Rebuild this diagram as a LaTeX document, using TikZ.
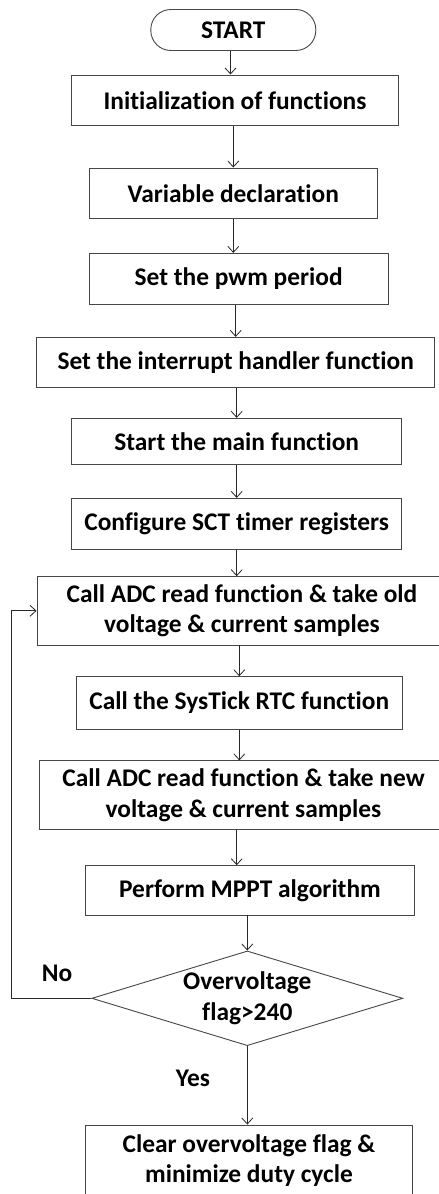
\documentclass[tikz,border=0pt]{standalone}
\usepackage{fontspec}
\setmainfont{Carlito}[Ligatures=NoCommon]
\usetikzlibrary{arrows.meta,shapes.geometric,calc}
\definecolor{boxc}{RGB}{70,70,70}
\definecolor{arrc}{RGB}{40,40,40}
\begin{document}
\begin{tikzpicture}[x=1pt,y=-1pt,
  every node/.style={font=\fontsize{25.4}{30.5}\selectfont\bfseries, text=black},
  pbox/.style={draw=boxc, line width=0.9pt, rectangle, inner sep=0pt, align=center},
  arr/.style={draw=arrc, line width=0.8pt, -{Straight Barb[length=6pt,width=11pt]}},
  lbl/.style={inner sep=0pt}]
\clip (0,0) rectangle (439,1194);
\fill[white] (0,0) rectangle (439,1194);
\node[pbox, rounded corners=20pt, minimum width=165, minimum height=41] (start) at (233.3,30) {START};
\node[pbox, minimum width=326.6, minimum height=50.7] (init) at (235,100.3) {Initialization of functions};
\node[pbox, minimum width=288, minimum height=50.7] (var) at (233.3,193.3) {Variable declaration};
\node[pbox, minimum width=298.7, minimum height=50.7] (pwm) at (238.7,278.7) {Set the pwm period};
\node[pbox, minimum width=398, minimum height=50] (irq) at (235.7,362.3) {Set the interrupt handler function};
\node[pbox, minimum width=330, minimum height=46] (mainf) at (236.7,441.3) {Start the main function};
\node[pbox, minimum width=330, minimum height=50.7] (sct) at (236.7,523.7) {Configure SCT timer registers};
\node[pbox, minimum width=410, minimum height=68.3] (adcold) at (242,610.8) {Call ADC read function \& take old\\voltage \& current samples};
\node[pbox, minimum width=326.7, minimum height=52.6] (tick) at (239.3,703) {Call the SysTick RTC function};
\node[pbox, minimum width=409, minimum height=68.3] (adcnew) at (243.5,795) {Call ADC read function \& take new\\voltage \& current samples};
\node[pbox, minimum width=328.6, minimum height=49.3] (mppt) at (250,890.3) {Perform MPPT algorithm};
\node[pbox, diamond, shape aspect=3.28, minimum width=311, minimum height=94.7] (dia) at (247.3,998.3) {Overvoltage\\flag>240};
\node[pbox, minimum width=326.6, minimum height=71.4] (clr) at (249,1160.7) {Clear overvoltage flag \&\\minimize duty cycle};
\node[lbl] (no) at (57,973) {No};
\node[lbl] (yes) at (193,1078) {Yes};
\coordinate (loop) at (11.7,998.3);
\coordinate (ax) at (236.7,0);
\draw[arr] (start.south -| 230.5,0) -- (init.north -| 230.5,0);
\draw[arr] (init.south -| var.north) -- (var.north);
\draw[arr] (var.south) -- (var.south |- pwm.north);
\draw[arr] (pwm.south -| irq.north) -- (irq.north);
\draw[arr] (irq.south -| mainf.north) -- (mainf.north);
\draw[arr] (mainf.south) -- (mainf.south |- sct.north);
\draw[arr] (sct.south) -- (sct.south |- adcold.north);
\draw[arr] (adcold.south -| tick.north) -- (tick.north);
\draw[arr] (tick.south) -- (tick.south |- adcnew.north);
\draw[arr] (adcnew.south -| ax) -- (mppt.north -| ax);
\draw[arr] (mppt.south -| dia.north) -- (dia.north);
\draw[arr] (dia.south) -- (clr.north -| dia.south);
\draw[arr] (dia.west) -- (loop) |- (adcold.west);
\end{tikzpicture}
\end{document}
